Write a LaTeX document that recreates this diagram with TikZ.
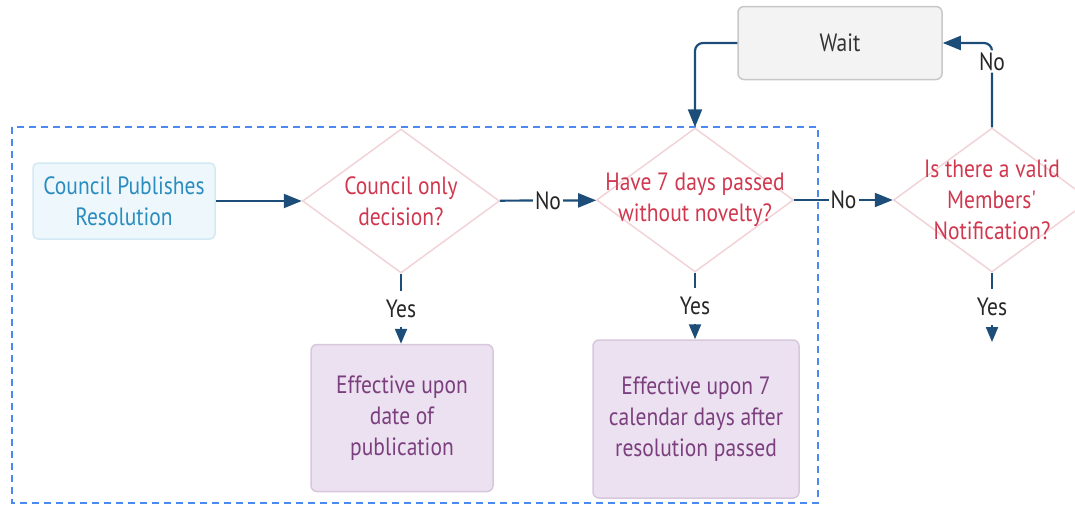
\documentclass[tikz,border=0pt]{standalone}
\usepackage{fontspec}
\setmainfont{PT Sans}[FakeStretch=0.86]
\usetikzlibrary{arrows.meta,shapes.geometric}
\definecolor{arrc}{HTML}{1D4E79}
\definecolor{dashc}{HTML}{4A8AF0}
\definecolor{startfill}{HTML}{EEF8FC}
\definecolor{startdraw}{HTML}{D3E9F3}
\definecolor{starttext}{HTML}{2B8CBF}
\definecolor{diadraw}{HTML}{F2D3D7}
\definecolor{diatext}{HTML}{D0384F}
\definecolor{waitfill}{HTML}{F3F3F3}
\definecolor{waitdraw}{HTML}{C8C8C8}
\definecolor{resfill}{HTML}{ECE1F0}
\definecolor{resdraw}{HTML}{D7C8DC}
\definecolor{restext}{HTML}{7B3F7E}
\tikzset{
  basefont/.style={font=\fontsize{25}{31}\selectfont},
  startbox/.style={basefont, draw=startdraw, line width=1.5pt, fill=startfill, rounded corners=5pt, text=starttext, align=center, inner sep=0pt},
  dia/.style={diamond, draw=diadraw, line width=1.5pt, fill=white, inner sep=0pt},
  dtxt/.style={basefont, text=diatext, align=center, inner sep=0pt},
  waitbox/.style={basefont, draw=waitdraw, line width=1.5pt, fill=waitfill, rounded corners=6pt, text=black!80, align=center, inner sep=0pt},
  resbox/.style={basefont, draw=resdraw, line width=1.5pt, fill=resfill, rounded corners=6pt, text=restext, align=center, inner sep=0pt},
  arr/.style={draw=arrc, line width=2.2pt, -{Triangle[length=18pt,width=14pt]}},
  arrs/.style={draw=arrc, line width=2.2pt, -{Triangle[length=15pt,width=12pt]}},
  lbl/.style={basefont, text=black!85, fill=white, inner sep=2pt},
  ylbl/.style={basefont, text=black!85, fill=white, inner xsep=2pt, minimum height=36pt},
  frame/.style={draw=dashc, line width=1.5pt, dash pattern=on 7pt off 5pt},
}
\begin{document}
\begin{tikzpicture}[x=1pt,y=-1pt]
\useasboundingbox (0,0) rectangle (1075,506);
\draw[frame] (12,127) rectangle (818,503);

\node[startbox, minimum width=182pt, minimum height=76pt] (start) at (124,201) {Council Publishes\\Resolution};
\node[dia, minimum width=197pt, minimum height=144pt] (d1) at (401,201) {};
\node[dtxt] (t1) at (d1) {Council only\\decision?};
\node[dia, minimum width=197pt, minimum height=144pt] (d2) at (695,200) {};
\node[dtxt] (t2) at (d2) {Have 7 days passed\\without novelty?};
\node[dia, minimum width=197pt, minimum height=144pt] (d3) at (992,200) {};
\node[dtxt] (t3) at (d3) {Is there a valid\\Members\textquotesingle\\Notification?};
\node[waitbox, minimum width=204pt, minimum height=73pt] (wait) at (840,43) {Wait};
\node[resbox, minimum width=182pt, minimum height=147pt] (r1) at (402,418) {Effective upon\\date of\\publication};
\node[resbox, minimum width=206pt, minimum height=158pt] (r2) at (696,419) {Effective upon 7\\calendar days after\\resolution passed};
\coordinate (e3) at (992,342);

\draw[arr] (start) -- (d1);
\draw[arr] (d1) -- node[lbl] {No} (d2);
\draw[arr] (d2) -- node[lbl] {No} (d3);
\draw[arrs] (d1.south) -- node[ylbl] {Yes} (d1.south |- r1.north);
\draw[arrs] (d2.south) -- node[ylbl] {Yes} (d2.south |- r2.north);
\draw[arrs] (d3.south) -- node[ylbl] {Yes} (e3);
\draw[arr, rounded corners=8pt] (d3.north) -- node[lbl, pos=0.78] {No} (d3.north |- wait.east) -- (wait.east);
\draw[arr, rounded corners=8pt] (wait.west) -| (d2.north);
\end{tikzpicture}
\end{document}
